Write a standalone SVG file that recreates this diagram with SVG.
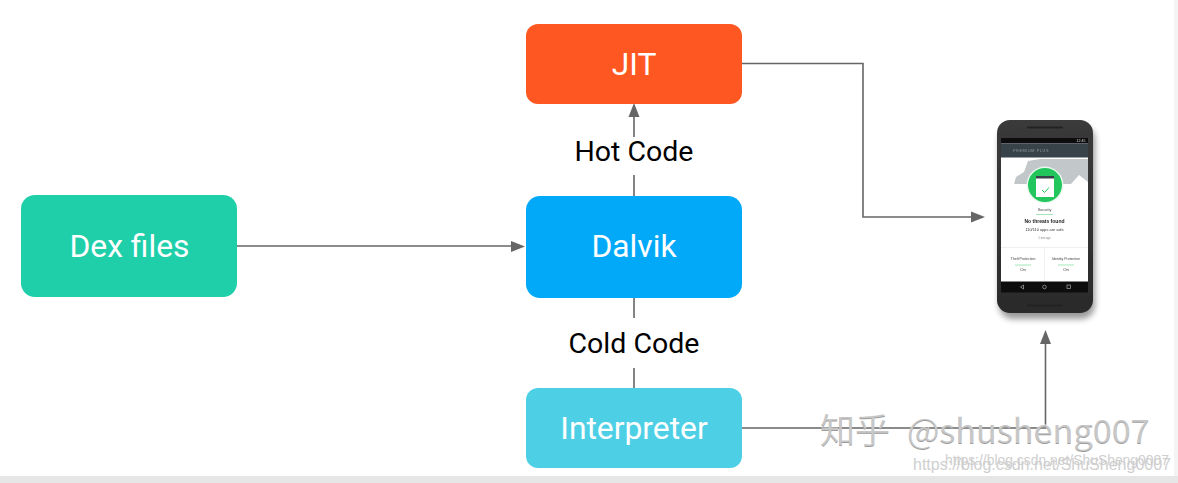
<svg xmlns="http://www.w3.org/2000/svg" width="1178" height="483" viewBox="0 0 1178 483">
<style>
.n{font-family:"Roboto","Liberation Sans",sans-serif;font-size:31.800px;fill:#fff;text-anchor:middle}
.l{font-family:"Roboto","Liberation Sans",sans-serif;font-size:28.500px;fill:#000;text-anchor:middle}
.c{fill:none;stroke:#666;stroke-width:1.600}
.a{fill:#666}
.p{font-family:"Liberation Sans",sans-serif;text-anchor:middle}
.wm{font-family:"Noto Sans CJK SC",sans-serif;font-size:35px}
.wm2{font-size:34.200px}
.csdn{font-family:"Liberation Sans",sans-serif;fill:#cfcfcf}
</style>
<defs>
<linearGradient id="sh" x1="0" y1="0" x2="0" y2="1"><stop offset="0" stop-color="#3a3a3a"/><stop offset="1" stop-color="#2b2b2b"/></linearGradient>
<filter id="blur" x="-20%" y="-20%" width="140%" height="140%"><feGaussianBlur stdDeviation="3"/></filter>
<filter id="soft" x="-5%" y="-5%" width="110%" height="110%"><feGaussianBlur stdDeviation=".45"/></filter>
</defs>
<rect width="1178" height="483" fill="#fff"/>
<rect x="1174" y="0" width="4" height="476" fill="#f4f4f4"/>
<rect x="0" y="476" width="1178" height="7" fill="#e6e6e6"/>
<g id="connectors">
<path class="c" d="M237 246H514"/><path class="a" d="M525 246.500L511 241V252Z"/>
<path class="c" d="M742 63.500H863V217H973"/><path class="a" d="M985 217L971 211.500V222.500Z"/>
<path class="c" d="M634 196V175M634 137V115"/><path class="a" d="M634 103L628.500 117H639.500Z"/>
<path class="c" d="M634 298V318M634 368V388"/>
<path class="c" d="M742 428H1045.500V342"/><path class="a" d="M1045.500 330L1040 344H1051Z"/>
</g>
<g id="dex"><rect x="21" y="195" width="216" height="102" rx="14" fill="#1fcfa9"/><text class="n" x="129.500" y="257">Dex files</text></g>
<g id="jit"><rect x="526" y="24" width="216" height="80" rx="12" fill="#ff5722"/><text class="n" x="634" y="74.500">JIT</text></g>
<g id="dalvik"><rect x="526" y="196" width="216" height="102" rx="14" fill="#03a9f9"/><text class="n" x="634" y="257">Dalvik</text></g>
<g id="interpreter"><rect x="526" y="388" width="216" height="80" rx="12" fill="#4dd0e6"/><text class="n" x="634" y="439">Interpreter</text></g>
<g id="labels"><text class="l" x="634" y="161">Hot Code</text><text class="l" x="634" y="353">Cold Code</text></g>
<g id="phone">
<rect x="999" y="126" width="96" height="193" rx="14" fill="#000" opacity=".4" filter="url(#blur)"/>
<g filter="url(#soft)">
<rect x="997" y="120" width="96" height="193" rx="13" fill="url(#sh)"/>
<rect x="1027" y="126.500" width="36" height="2" rx="1" fill="#222"/>
<rect x="1027" y="304.500" width="36" height="2" rx="1" fill="#222"/>
<rect x="1001" y="138" width="87" height="144" fill="#fff"/>
<rect x="1001" y="138" width="87" height="5.500" fill="#0c0c0c"/>
<rect x="1001" y="143.500" width="87" height="14" fill="#37434a"/>
<text class="p" x="1031" y="152" font-size="3.800" fill="#8f999e" letter-spacing=".6">PREMIUM PLUS</text>
<text class="p" x="1081" y="142.300" font-size="3.500" fill="#ddd">12:45</text>
<path d="M1014 184L1016 177L1024 172L1028 161L1040 159H1088V182L1079 175L1071 184Z" fill="#c2c7c9"/>
<circle cx="1045" cy="185" r="18.500" fill="#e8f8ee"/>
<circle cx="1045" cy="185" r="17" fill="#21c65c"/>
<rect x="1036" y="176" width="18" height="21" fill="#fff"/><rect x="1036" y="176" width="18" height="2.500" fill="#37434a"/>
<path d="M1042 190L1044.500 192.500L1049 187.500" fill="none" stroke="#21c65c" stroke-width="1"/>
<text class="p" x="1044.500" y="211" font-size="3.800" fill="#444">Security</text>
<rect x="1036" y="214" width="17" height=".7" fill="#7bdc9c"/>
<text class="p" x="1044.500" y="223" font-size="5" font-weight="700" fill="#222">No threats found</text>
<text class="p" x="1044.500" y="231" font-size="3.900" fill="#333">110/110 apps are safe</text>
<text class="p" x="1044.500" y="239" font-size="2.800" fill="#888">1 min ago</text>
<path d="M1001 247.500H1088M1044.500 247.500V281" stroke="#e8e8e8" stroke-width=".7"/>
<text class="p" x="1023" y="260" font-size="3.500" fill="#444">Theft Protection</text>
<text class="p" x="1066" y="260" font-size="3.500" fill="#444">Identity Protection</text>
<path d="M1015 265H1031M1058 265H1074" stroke="#7bdc9c" stroke-width=".7"/>
<text class="p" x="1023" y="271" font-size="4.200" fill="#333">On</text>
<text class="p" x="1066" y="271" font-size="4.200" fill="#333">On</text>
<rect x="1001" y="281.500" width="87" height="11" fill="#0c0c0c"/>
<path d="M1020.500 287L1023.500 285V289Z" fill="none" stroke="#aaa" stroke-width=".7"/>
<circle cx="1044.500" cy="287" r="1.800" fill="none" stroke="#aaa" stroke-width=".7"/>
<rect x="1067" y="285" width="3.500" height="3.500" fill="none" stroke="#aaa" stroke-width=".7"/>
</g>
</g>
<g id="watermarks">
<g class="wm"><text fill="#9c9c9c" y="444"><tspan x="820">知乎</tspan><tspan class="wm2" x="907">@shusheng007</tspan></text></g>
<g class="wm"><text fill="#fff" fill-opacity=".45" y="442.500"><tspan x="820">知乎</tspan><tspan class="wm2" x="907">@shusheng007</tspan></text></g>
<text class="csdn" x="913" y="470" font-size="16">https://blog.csdn.net/ShuSheng0007</text>
<text class="csdn" x="945" y="465" font-size="13.900">https://blog.csdn.net/ShuSheng0007</text>
</g>
</svg>
